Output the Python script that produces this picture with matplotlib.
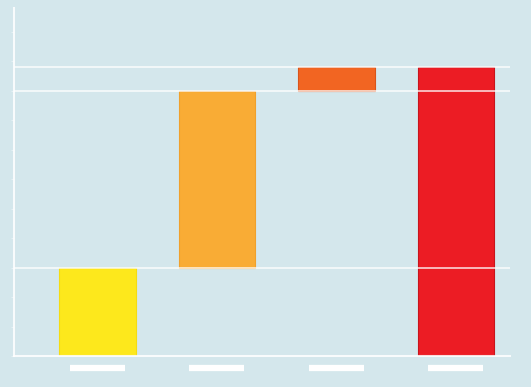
import matplotlib
matplotlib.use("Agg")
import matplotlib.pyplot as plt
import matplotlib.transforms as mtransforms
import numpy as np

# waterfall steps: start value, two increases, then the total
steps = ["start", "step 1", "step 2", "total"]
changes = [30, 60, 8]
colors = ["#fde81c", "#f9ac35", "#f26522", "#ec1c24"]
edges = ["#f5dc10", "#f0a02c", "#d9541a", "#c8151c"]

bg = "#d4e7ec"

cum = np.cumsum(changes)
total = cum[-1]
bottoms = list(np.concatenate([[0], cum[:-1]])) + [0]
heights = list(changes) + [total]

fig = plt.figure(figsize=(5.31, 3.87), dpi=100, facecolor=bg)
ax = fig.add_axes([0.026, 0.08, 0.934, 0.899], facecolor=bg)

x = np.arange(len(steps))
ax.bar(x, heights, bottom=bottoms, width=0.64, color=colors,
       edgecolor=edges, linewidth=0.8, zorder=2)

# white guide lines at the running levels, drawn over the bars
for lvl in [cum[0], cum[1], total]:
    ax.axhline(lvl, color="white", lw=1.3, alpha=0.75, zorder=3)

ax.set_xlim(-0.7, 3.45)
ax.set_ylim(0, 118)

for s in ["top", "right"]:
    ax.spines[s].set_visible(False)
for s in ["left", "bottom"]:
    ax.spines[s].set_color("white")
    ax.spines[s].set_linewidth(1.5)
    ax.spines[s].set_alpha(0.85)

ax.set_xticks([])
ax.set_yticks(np.arange(0, 118, 10))
ax.tick_params(axis="y", colors="#eaf4f7", length=2.5, width=0.6,
               labelleft=False)

# blank label bars under each category
trans = mtransforms.blended_transform_factory(ax.transData, ax.transAxes)
for xi in x:
    ax.plot([xi - 0.23, xi + 0.23], [-0.033, -0.033], color="white",
            lw=4.5, solid_capstyle="butt", transform=trans, clip_on=False)

fig.savefig("out.png", dpi=100, facecolor=bg)
